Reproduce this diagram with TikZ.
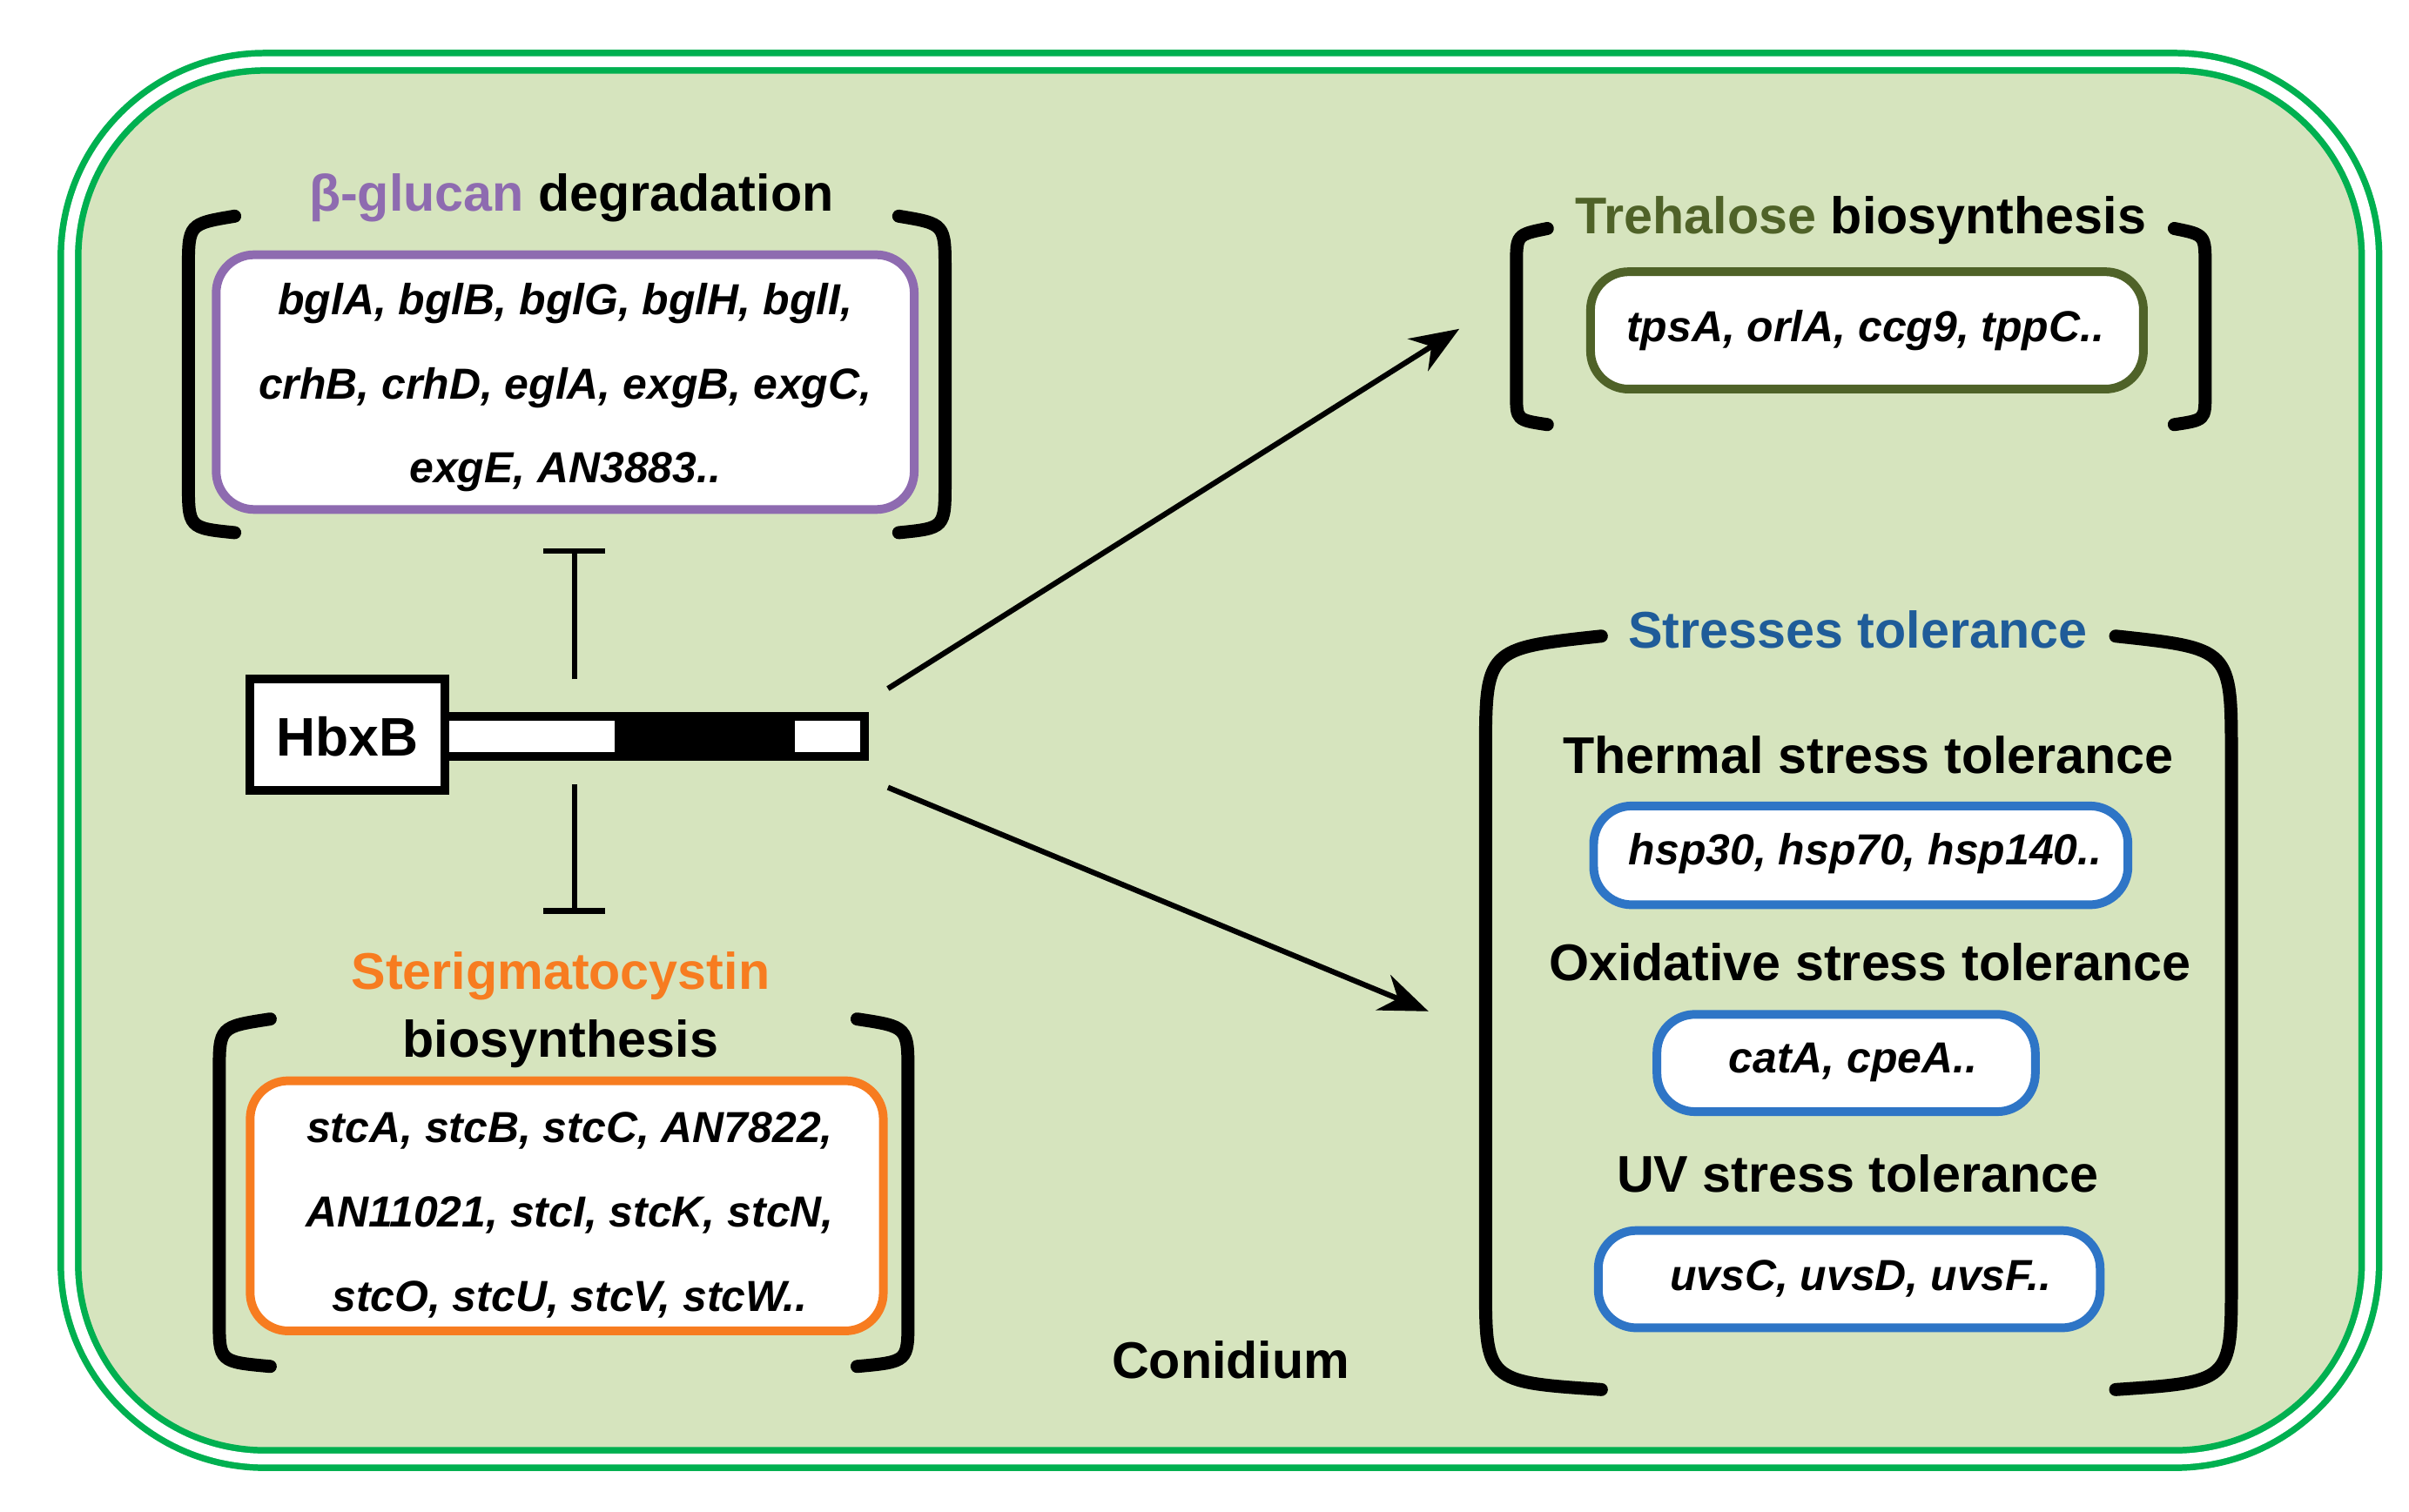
\documentclass[tikz,border=0pt]{standalone}
\usepackage{fontspec}
\setmainfont{Liberation Sans}
\usetikzlibrary{arrows.meta}
\definecolor{bgg}{RGB}{214,228,190}
\definecolor{outg}{RGB}{0,176,80}
\definecolor{purp}{RGB}{142,107,176}
\definecolor{olive}{RGB}{79,98,40}
\definecolor{orng}{RGB}{247,124,32}
\definecolor{dblue}{RGB}{31,92,153}
\definecolor{lblue}{RGB}{46,117,198}
\begin{document}
\begin{tikzpicture}[x=0.01cm,y=-0.01cm,
  title/.style={font=\fontsize{9.5}{11}\selectfont\bfseries},
  genes/.style={font=\fontsize{8}{15.5}\selectfont\bfseries\itshape, align=center},
  gbox/.style={draw, line width=1.6pt, fill=white, rounded corners=7pt},
  brk/.style={line width=2.4pt, line cap=round},
  arr/.style={line width=1pt,-{Stealth[length=9pt,width=7pt]}},
  inh/.style={line width=1pt}]
\useasboundingbox (0,0) rectangle (1560,979);
\draw[outg, double=white, double distance=2pt, line width=1.2pt, fill=bgg, rounded corners=36pt] (45,40) rectangle (1535,945);
% beta glucan
\draw[gbox, draw=purp] (140,165) rectangle (592,330);
\node[genes] (bgt) at (366,251) {bglA, bglB, bglG, bglH, bglI,\\crhB, crhD, eglA, exgB, exgC,\\exgE, AN3883..};
\node[title] (bgh) at (370,128) {\textcolor{purp}{β-glucan} degradation};
\draw[brk] (152,140) .. controls (122,145) .. (122,175) -- (122,312) .. controls (122,342) .. (152,345);
\draw[brk] (582,140) .. controls (612,145) .. (612,175) -- (612,312) .. controls (612,342) .. (582,345);
% trehalose
\draw[gbox, draw=olive] (1030,176) rectangle (1388,252);
\node[genes] (tt) at (1208,214) {tpsA, orlA, ccg9, tppC..};
\node[title] (th) at (1205,143) {\textcolor{olive}{Trehalose} biosynthesis};
\draw[brk] (1002,148) .. controls (982,152) .. (982,172) -- (982,255) .. controls (982,272) .. (1002,275);
\draw[brk] (1408,148) .. controls (1428,152) .. (1428,172) -- (1428,255) .. controls (1428,272) .. (1408,275);
% HbxB
\draw[line width=1.6pt, fill=white] (288,464) rectangle (560,490);
\fill (398,464) rectangle (515,490);
\draw[line width=1.6pt, fill=white] (162,440) rectangle (288,512);
\node[font=\fontsize{10}{12}\selectfont\bfseries] (hb) at (225,477) {HbxB};
\coordinate (i1s) at (372,440); \coordinate (i1e) at (372,357);
\coordinate (i2s) at (372,508); \coordinate (i2e) at (372,590);
\draw[inh] (i1s) -- (i1e); \draw[inh] (352,357) -- (392,357);
\draw[inh] (i2s) -- (i2e); \draw[inh] (352,590) -- (392,590);
\coordinate (a1) at (575,446); \coordinate (a1e) at (945,213);
\coordinate (a2) at (575,510); \coordinate (a2e) at (925,655);
\draw[arr] (a1) -- (a1e);
\draw[arr] (a2) -- (a2e);
% sterigmatocystin
\node[title, text=orng] (sh) at (363,632) {Sterigmatocystin};
\node[title] (sh2) at (363,676) {biosynthesis};
\draw[gbox, draw=orng] (162,700) rectangle (572,862);
\node[genes] (st) at (369,787) {stcA, stcB, stcC, AN7822,\\AN11021, stcI, stcK, stcN,\\stcO, stcU, stcV, stcW..};
\draw[brk] (175,660) .. controls (142,665) .. (142,695) -- (142,855) .. controls (142,882) .. (175,885);
\draw[brk] (555,660) .. controls (588,665) .. (588,695) -- (588,855) .. controls (588,882) .. (555,885);
% stresses
\node[title, text=dblue] (sth) at (1203,408) {Stresses tolerance};
\draw[brk] (1037,412) .. controls (962,420) .. (962,490) -- (962,830) .. controls (962,895) .. (1037,900);
\draw[brk] (1370,412) .. controls (1445,420) .. (1445,490) -- (1445,830) .. controls (1445,895) .. (1370,900);
\node[title] (t1) at (1210,489) {Thermal stress tolerance};
\draw[gbox, draw=lblue] (1032,522) rectangle (1378,586);
\node[genes] (g1) at (1208,553) {hsp30, hsp70, hsp140..};
\node[title] (t2) at (1211,623) {Oxidative stress tolerance};
\draw[gbox, draw=lblue] (1073,657) rectangle (1318,720);
\node[genes] (g2) at (1200,688) {catA, cpeA..};
\node[title] (t3) at (1203,760) {UV stress tolerance};
\draw[gbox, draw=lblue] (1035,797) rectangle (1360,860);
\node[genes] (g3) at (1205,828) {uvsC, uvsD, uvsF..};
\node[title] (con) at (797,881) {Conidium};
\end{tikzpicture}
\end{document}
